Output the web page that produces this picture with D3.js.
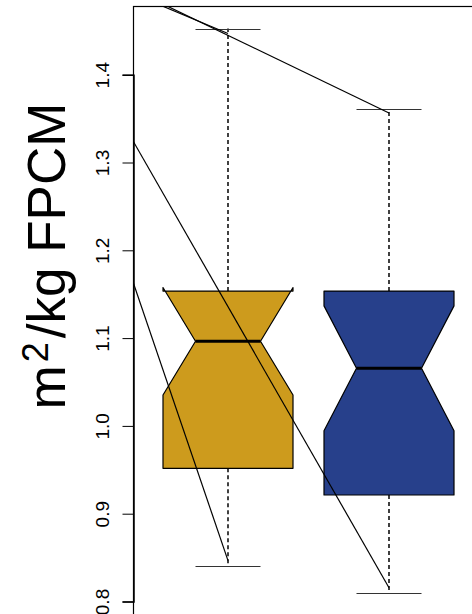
<!DOCTYPE html>
<html>
<head>
<meta charset="utf-8">
<script src="https://cdn.jsdelivr.net/npm/d3@7"></script>
<style>
  body { margin: 0; background: #fff; }
  svg { display: block; font-family: "Liberation Sans", Arial, sans-serif; }
</style>
</head>
<body>
<script>
// box statistics, one entry per group
const groups = ["g1", "g2"];
const colors = ["#CD9B1D", "#27408B"];
const whiskerLow = [0.841, 0.810];
const q1 = [0.9517, 0.9213];
const median = [1.0964, 1.0656];
const q3 = [1.1536, 1.1536];
const whiskerHigh = [1.4526, 1.3606];
const notchLow = [1.0352, 0.9945];
const notchHigh = [1.1576, 1.1367];

// the diagonal segments drawn over the plot (group position, value)
const segFromX = [0, 0, 0, 0];
const segFromY = [1.4558, 1.3846, 1.5237, 1.5331];
const segToX = [2, 1, 1, 2];
const segToY = [0.8157, 0.8465, 1.4469, 1.3564];

const yTicks = [0.8, 0.9, 1.0, 1.1, 1.2, 1.3, 1.4];

const width = 472, height = 614;
const plotLeft = 133.5, plotTop = 6.5;

const svg = d3.select("body").append("svg")
    .attr("width", width)
    .attr("height", height);

const x = d3.scaleLinear().domain([1, 2]).range([228, 389]);
const y = d3.scaleLinear().domain([0.8, 1.4]).range([601.5, 74.7]);
const boxW = 130;

svg.append("clipPath").attr("id", "plotclip")
  .append("rect")
    .attr("x", plotLeft).attr("y", plotTop)
    .attr("width", 600).attr("height", 700);

const plot = svg.append("g").attr("clip-path", "url(#plotclip)");

groups.forEach((g, i) => {
    const cx = x(i + 1);
    const xl = cx - boxW / 2, xr = cx + boxW / 2, xm = cx - boxW / 4, xm2 = cx + boxW / 4;

    // whiskers
    plot.append("line")
        .attr("x1", cx).attr("x2", cx)
        .attr("y1", y(q3[i])).attr("y2", y(whiskerHigh[i]))
        .attr("stroke", "#111").attr("stroke-width", 1.6)
        .attr("stroke-dasharray", "4,3");
    plot.append("line")
        .attr("x1", cx).attr("x2", cx)
        .attr("y1", y(q1[i])).attr("y2", y(whiskerLow[i]))
        .attr("stroke", "#111").attr("stroke-width", 1.6)
        .attr("stroke-dasharray", "4,3");
    [whiskerLow[i], whiskerHigh[i]].forEach(v => {
        plot.append("line")
            .attr("x1", xm).attr("x2", xm2)
            .attr("y1", Math.round(y(v)) + 0.5).attr("y2", Math.round(y(v)) + 0.5)
            .attr("stroke", "#333").attr("stroke-width", 1);
    });

    // notched box, drawn the way R builds its polygon
    const pts = [
        [xl, q1[i]], [xl, notchLow[i]], [xm, median[i]], [xl, notchHigh[i]], [xl, q3[i]],
        [xr, q3[i]], [xr, notchHigh[i]], [xm2, median[i]], [xr, notchLow[i]], [xr, q1[i]]
    ];
    plot.append("path")
        .attr("d", d3.line().x(p => p[0]).y(p => y(p[1]))(pts) + "Z")
        .attr("fill", colors[i])
        .attr("stroke", "#000").attr("stroke-width", 1.2)
        .attr("stroke-linejoin", "round");

    plot.append("line")
        .attr("x1", xm).attr("x2", xm2)
        .attr("y1", y(median[i])).attr("y2", y(median[i]))
        .attr("stroke", "#000").attr("stroke-width", 3);
});

// diagonal segments
segFromX.forEach((d, i) => {
    plot.append("line")
        .attr("x1", x(segFromX[i])).attr("y1", y(segFromY[i]))
        .attr("x2", x(segToX[i])).attr("y2", y(segToY[i]))
        .attr("stroke", "#000").attr("stroke-width", 1.2);
});

// frame
svg.append("rect")
    .attr("x", plotLeft).attr("y", plotTop)
    .attr("width", 600).attr("height", 700)
    .attr("fill", "none").attr("stroke", "#000").attr("stroke-width", 1.2);

// y axis
const yAxis = d3.axisLeft(y)
    .tickValues(yTicks)
    .tickFormat(d3.format(".1f"))
    .tickSize(11)
    .tickPadding(0);

const ax = svg.append("g")
    .attr("transform", `translate(${plotLeft},0)`)
    .call(yAxis);
ax.select(".domain").attr("stroke-width", 1.5);
ax.selectAll(".tick line").attr("stroke", "#000");
ax.selectAll(".tick text")
    .attr("font-size", 19)
    .attr("fill", "#000")
    .attr("font-family", "Liberation Sans, Arial, sans-serif")
    .attr("text-anchor", "middle")
    .attr("x", null).attr("dy", null)
    .attr("transform", "translate(-25,0) rotate(-90)");

// y label
const lab = svg.append("text")
    .attr("transform", "translate(65,256) rotate(-90)")
    .attr("text-anchor", "middle")
    .attr("font-size", 53)
    .attr("fill", "#000");
lab.append("tspan").text("m");
lab.append("tspan").attr("font-size", 36).attr("dx", 3).attr("dy", -17).text("2");
lab.append("tspan").attr("dx", 4).attr("dy", 17).text("/kg FPCM");
</script>
</body>
</html>
